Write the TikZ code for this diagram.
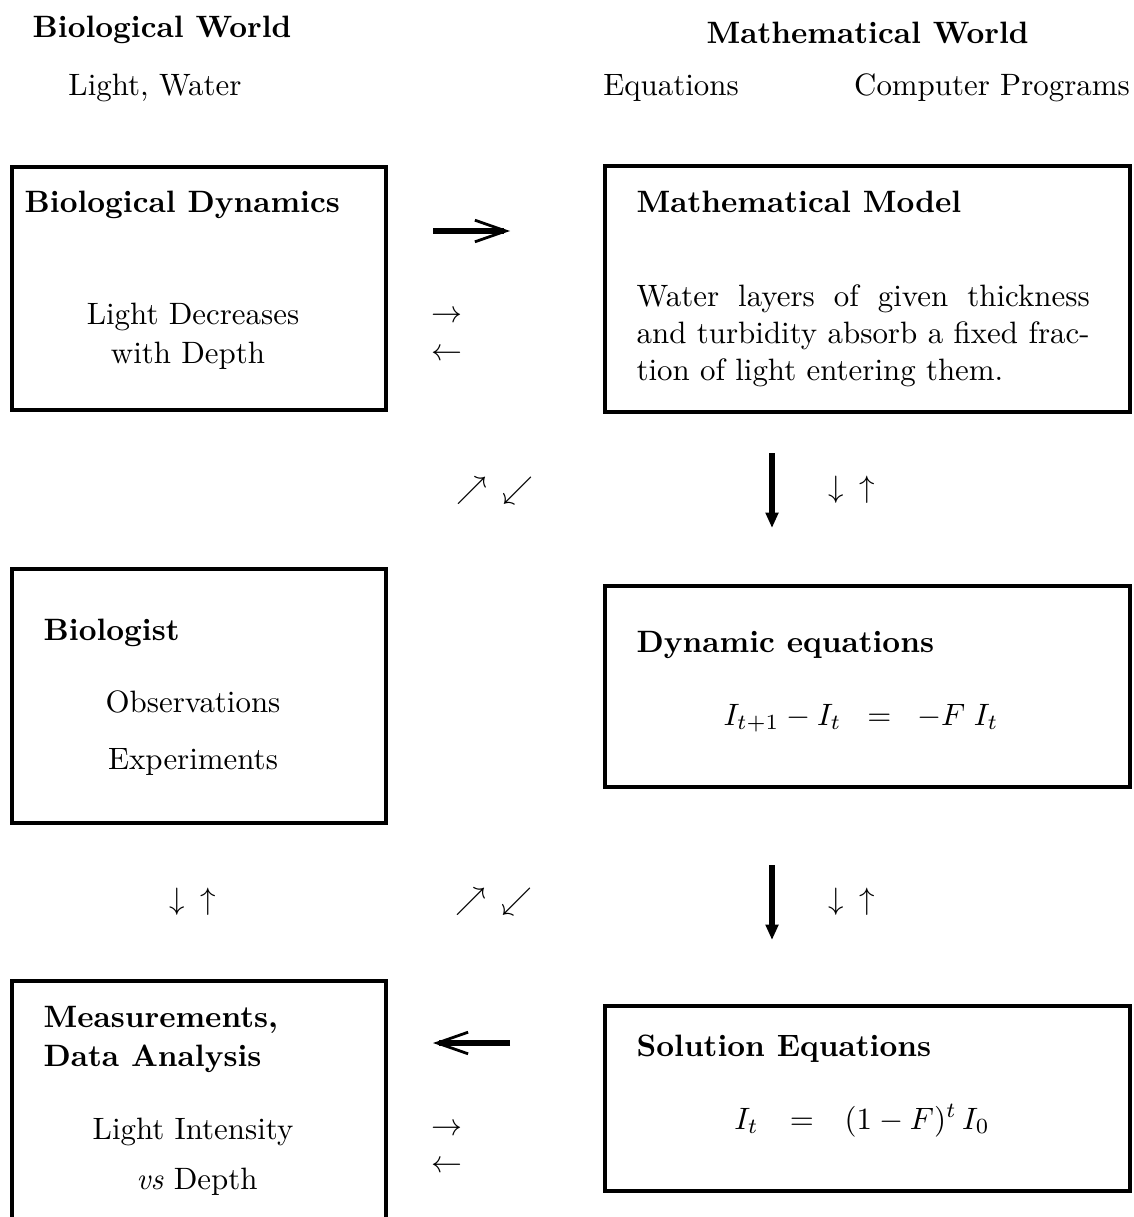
\documentclass[tikz,border=0pt]{standalone}
\usepackage{amsmath}
\usepackage{amssymb}
\usetikzlibrary{positioning, arrows.meta, fit}

\begin{document}
\begin{tikzpicture}[x=0.3236pt, y=-0.3236pt,
  box/.style={draw, line width=1.1pt, inner sep=0pt},
  ttl/.style={anchor=base west, inner sep=0pt, font=\bfseries},
  lbl/.style={anchor=base, inner sep=0pt},
  sym/.style={inner sep=0pt},
  bigarr/.style={line width=1.8pt, -{Straight Barb[length=10pt, width=7pt, line width=0.9pt]}},
  downarr/.style={line width=1.8pt, -{Triangle[length=5pt, width=4pt]}}]
  \useasboundingbox (0,0) rectangle (1133,1217);

  % headings
  \node[ttl] (bw) at (32,38) {Biological World};
  \node[lbl] (lw) at (155,96) {Light, Water};
  \node[ttl] (mw) at (706,44) {Mathematical World};
  \node[lbl] (eqs) at (671,96) {Equations};
  \node[lbl] (cp) at (992,96) {Computer Programs};

  % boxes
  \node[box, fit={(12,167) (386,410)}] (bdyn) {};
  \node[box, fit={(605,166) (1130,412)}] (mmod) {};
  \node[box, fit={(12,569) (386,823)}] (biol) {};
  \node[box, fit={(605,586) (1130,787)}] (deqn) {};
  \node[box, fit={(12,981) (386,1250)}] (meas) {};
  \node[box, fit={(605,1006) (1130,1191)}] (soln) {};

  % box texts
  \node[ttl] (bdyn-t) at (24,213) {Biological Dynamics};
  \node[lbl] (bdyn-1) at (193,325) {Light Decreases};
  \node[lbl] (bdyn-2) at (188,363) {with Depth};

  \node[ttl] (mmod-t) at (636,213) {Mathematical Model};
  \node[anchor=north west, inner sep=0pt, text width=146.6pt, align=justify] (mmod-1) at (636,284)
    {\baselineskip=12.4pt Water layers of given thickness and turbidity absorb a fixed fraction of light entering them.};

  \node[ttl] (biol-t) at (43,640) {Biologist};
  \node[lbl] (biol-1) at (193,712) {Observations};
  \node[lbl] (biol-2) at (193,769) {Experiments};

  \node[ttl] (deqn-t) at (636,652) {Dynamic equations};
  \node[lbl] (deqn-1) at (861,725) {$I_{t+1}-I_t \;\;=\;\; -F\;I_t$};

  \node[ttl] (meas-t) at (43,1027) {Measurements,};
  \node[ttl] (meas-t2) at (43,1066) {Data Analysis};
  \node[lbl] (meas-1) at (193,1139) {Light Intensity};
  \node[lbl] (meas-2) at (197,1189) {\emph{vs} Depth};

  \node[ttl] (soln-t) at (636,1056) {Solution Equations};
  \node[lbl] (soln-1) at (862,1129) {$I_t \;\;\,=\;\;\, (1-F)^t\, I_0$};

  % small arrows
  \node[sym] (r1) at (447,317) {$\rightarrow$};
  \node[sym] (l1) at (447,355) {$\leftarrow$};
  \node[sym] (r2) at (447,1130) {$\rightarrow$};
  \node[sym] (l2) at (447,1167) {$\leftarrow$};
  \node[sym] (d1) at (495,491) {$\nearrow\enspace\swarrow$};
  \node[sym] (d2) at (494,902) {$\nearrow\enspace\swarrow$};
  \node[sym] (u1) at (852,490) {$\downarrow\enspace\uparrow$};
  \node[sym] (u2) at (852,902) {$\downarrow\enspace\uparrow$};
  \node[sym] (u3) at (193,902) {$\downarrow\enspace\uparrow$};

  % thick arrows
  \coordinate (a1) at (433,231);
  \coordinate (b1) at (510,231);
  \coordinate (a2) at (510,1043);
  \coordinate (b2) at (433,1043);
  \coordinate (a3) at (772,453);
  \coordinate (b3) at (772,528);
  \coordinate (a4) at (772,865);
  \coordinate (b4) at (772,940);
  \draw[bigarr] (a1) -- (b1);
  \draw[bigarr] (a2) -- (b2);
  \draw[downarr] (a3) -- (b3);
  \draw[downarr] (a4) -- (b4);
\end{tikzpicture}
\end{document}
